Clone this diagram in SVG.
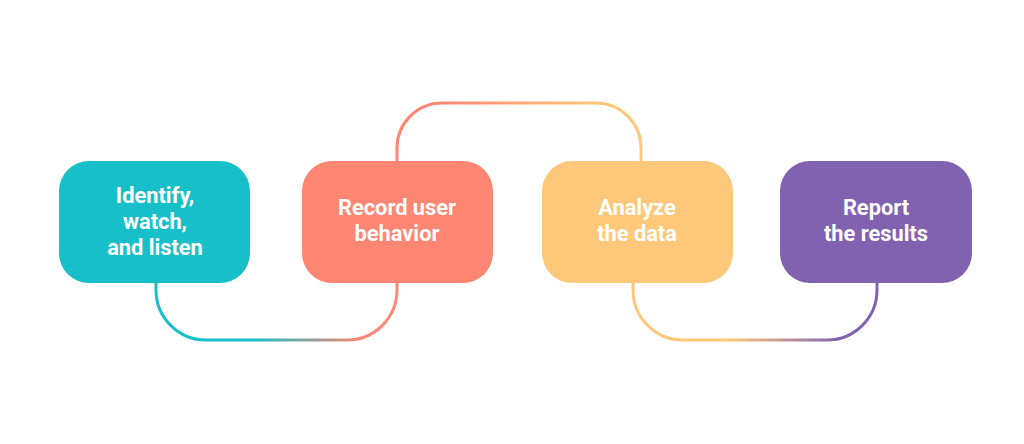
<svg xmlns="http://www.w3.org/2000/svg" width="1024" height="444" viewBox="0 0 1024 444">
<style>
.box{stroke:none}
.lbl{font-family:Roboto,"Liberation Sans",sans-serif;font-weight:bold;font-size:21.8px;fill:#ffffff;text-anchor:middle}
.conn{fill:none;stroke-width:3}
</style>
<defs>
<linearGradient id="g1" gradientUnits="userSpaceOnUse" x1="255" y1="0" x2="360" y2="0"><stop offset="0" stop-color="#17C0C9"/><stop offset="1" stop-color="#FF8672"/></linearGradient>
<linearGradient id="g2" gradientUnits="userSpaceOnUse" x1="440" y1="0" x2="600" y2="0"><stop offset="0" stop-color="#FF8672"/><stop offset="1" stop-color="#FEC87A"/></linearGradient>
<linearGradient id="g3" gradientUnits="userSpaceOnUse" x1="730" y1="0" x2="840" y2="0"><stop offset="0" stop-color="#FEC87A"/><stop offset="1" stop-color="#8062B0"/></linearGradient>
</defs>
<rect width="1024" height="444" fill="#ffffff"/>
<g id="connectors">
<path class="conn" stroke="url(#g1)" d="M156 283 V290 A50 50 0 0 0 206 340 H347 A50 50 0 0 0 397 290 V283"/>
<path class="conn" stroke="url(#g2)" d="M397 161 V148 A45 45 0 0 1 442 103 H596 A45 45 0 0 1 641 148 V161"/>
<path class="conn" stroke="url(#g3)" d="M633 283 V290 A50 50 0 0 0 683 340 H827 A50 50 0 0 0 877 290 V283"/>
</g>
<g id="node1">
<rect class="box" x="59" y="161" width="191" height="122" rx="30" fill="#17C0C9"/>
<text class="lbl" x="155" y="203">Identify,</text>
<text class="lbl" x="155" y="229">watch,</text>
<text class="lbl" x="155" y="255">and listen</text>
</g>
<g id="node2">
<rect class="box" x="302" y="161" width="191" height="122" rx="30" fill="#FF8672"/>
<text class="lbl" x="397" y="215">Record user</text>
<text class="lbl" x="397" y="241">behavior</text>
</g>
<g id="node3">
<rect class="box" x="542" y="161" width="191" height="122" rx="30" fill="#FEC87A"/>
<text class="lbl" x="637" y="215">Analyze</text>
<text class="lbl" x="637" y="241">the data</text>
</g>
<g id="node4">
<rect class="box" x="780" y="161" width="192" height="122" rx="30" fill="#8062B0"/>
<text class="lbl" x="876" y="215">Report</text>
<text class="lbl" x="876" y="241">the results</text>
</g>
</svg>
